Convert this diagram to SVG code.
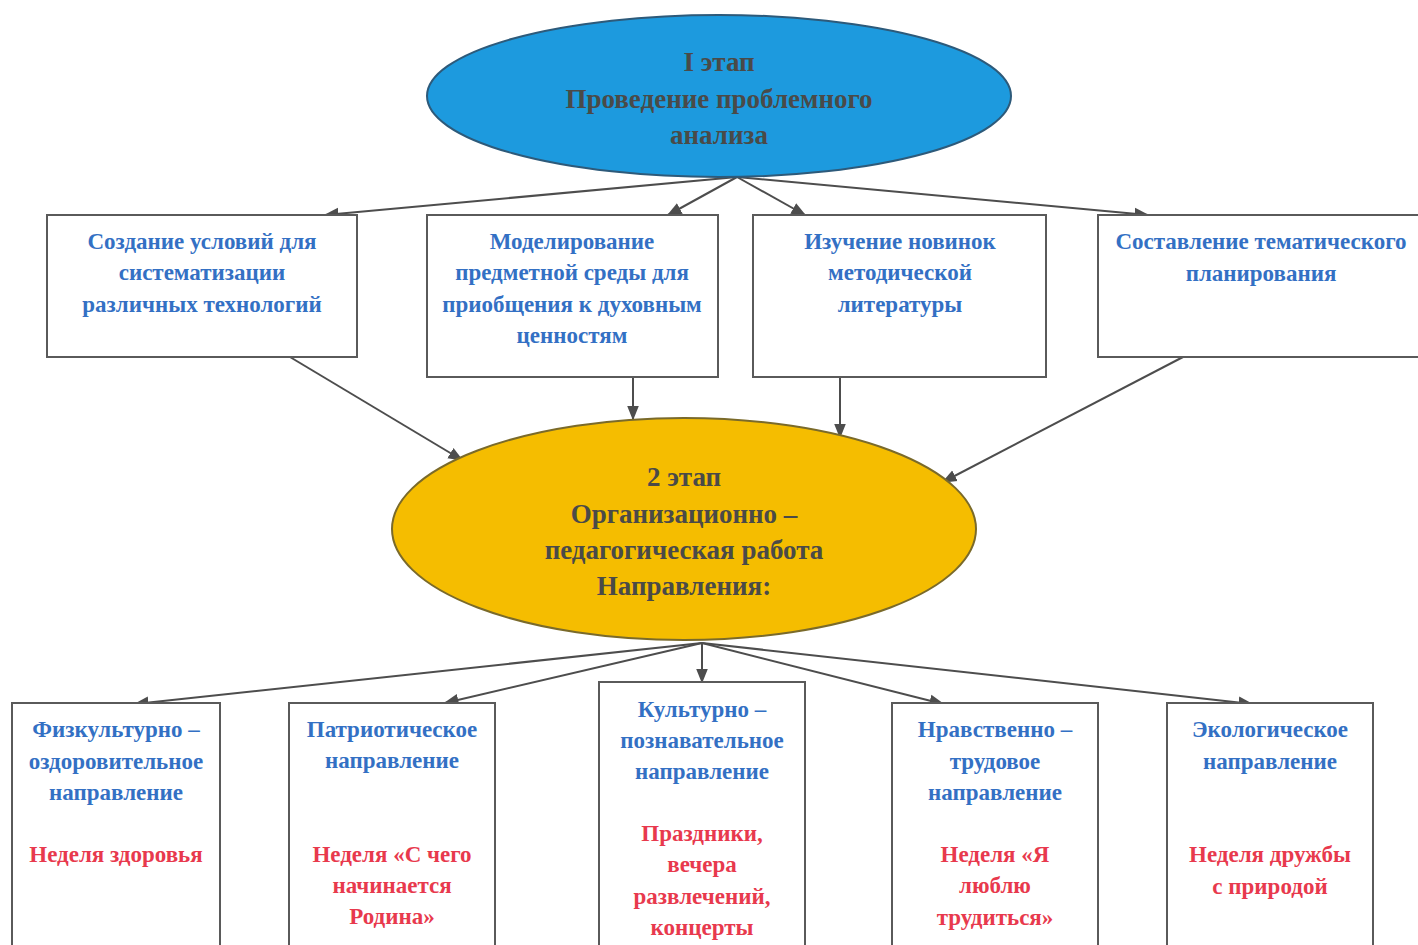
<svg xmlns="http://www.w3.org/2000/svg" width="1418" height="945" viewBox="0 0 1418 945">
<style>
.bg{fill:#ffffff}
.box{fill:#ffffff;stroke:#5a5a5a;stroke-width:2}
.t{font-family:"Liberation Serif","Times New Roman",serif;font-weight:bold;text-anchor:middle}
.head{font-size:27px;fill:#4a4a48}
.blue{font-size:23px;fill:#3370c4}
.red{font-size:23px;fill:#e8394d}
.con{stroke:#4d4d4d;stroke-width:2;fill:none;marker-end:url(#ah)}
</style>
<defs>
<marker id="ah" viewBox="0 0 10 10" refX="9" refY="5" markerWidth="7.5" markerHeight="7.5" orient="auto" markerUnits="strokeWidth">
<path d="M0,1 L10,5 L0,9 Z" fill="#4d4d4d"/>
</marker>
</defs>
<rect class="bg" x="0" y="0" width="1418" height="945"/>

<g id="connectors">
<line class="con" x1="737" y1="177" x2="325" y2="215"/>
<line class="con" x1="737" y1="177" x2="668" y2="215"/>
<line class="con" x1="737" y1="177" x2="805" y2="215"/>
<line class="con" x1="737" y1="177" x2="1148" y2="215"/>
<line class="con" x1="290" y1="357" x2="462" y2="460"/>
<line class="con" x1="633" y1="377" x2="633" y2="419"/>
<line class="con" x1="840" y1="377" x2="840" y2="437"/>
<line class="con" x1="1183" y1="357" x2="943" y2="482"/>
<line class="con" x1="702" y1="643" x2="135" y2="704"/>
<line class="con" x1="702" y1="643" x2="445" y2="703"/>
<line class="con" x1="702" y1="643" x2="702" y2="682"/>
<line class="con" x1="702" y1="643" x2="943" y2="704"/>
<line class="con" x1="702" y1="643" x2="1252" y2="704"/>
</g>

<g id="stage1">
<ellipse cx="719" cy="96" rx="292" ry="81" fill="#1d9ade" stroke="#2d5a7a" stroke-width="2"/>
<text class="t head" x="719" y="71">I этап</text>
<text class="t head" x="719" y="108">Проведение проблемного</text>
<text class="t head" x="719" y="144">анализа</text>
</g>

<g id="box-conditions">
<rect class="box" x="47" y="215" width="310" height="142"/>
<text class="t blue" x="202" y="249">Создание условий для</text>
<text class="t blue" x="202" y="280">систематизации</text>
<text class="t blue" x="202" y="312">различных технологий</text>
</g>

<g id="box-modeling">
<rect class="box" x="427" y="215" width="291" height="162"/>
<text class="t blue" x="572" y="249">Моделирование</text>
<text class="t blue" x="572" y="280">предметной среды для</text>
<text class="t blue" x="572" y="312">приобщения к духовным</text>
<text class="t blue" x="572" y="343">ценностям</text>
</g>

<g id="box-study">
<rect class="box" x="753" y="215" width="293" height="162"/>
<text class="t blue" x="900" y="249">Изучение новинок</text>
<text class="t blue" x="900" y="280">методической</text>
<text class="t blue" x="900" y="312">литературы</text>
</g>

<g id="box-planning">
<rect class="box" x="1098" y="215" width="330" height="142"/>
<text class="t blue" x="1261" y="249">Составление тематического</text>
<text class="t blue" x="1261" y="281">планирования</text>
</g>

<g id="stage2">
<ellipse cx="684" cy="529" rx="292" ry="111" fill="#f5bd00" stroke="#7a6a2a" stroke-width="2"/>
<text class="t head" x="684" y="486">2 этап</text>
<text class="t head" x="684" y="523">Организационно –</text>
<text class="t head" x="684" y="559">педагогическая работа</text>
<text class="t head" x="684" y="595">Направления:</text>
</g>

<g id="dir-physical">
<rect class="box" x="12" y="703" width="208" height="250"/>
<text class="t blue" x="116" y="737">Физкультурно –</text>
<text class="t blue" x="116" y="769">оздоровительное</text>
<text class="t blue" x="116" y="800">направление</text>
<text class="t red" x="116" y="862">Неделя здоровья</text>
</g>

<g id="dir-patriotic">
<rect class="box" x="289" y="703" width="206" height="250"/>
<text class="t blue" x="392" y="737">Патриотическое</text>
<text class="t blue" x="392" y="768">направление</text>
<text class="t red" x="392" y="862">Неделя «С чего</text>
<text class="t red" x="392" y="893">начинается</text>
<text class="t red" x="392" y="924">Родина»</text>
</g>

<g id="dir-cultural">
<rect class="box" x="599" y="682" width="206" height="271"/>
<text class="t blue" x="702" y="717">Культурно –</text>
<text class="t blue" x="702" y="748">познавательное</text>
<text class="t blue" x="702" y="779">направление</text>
<text class="t red" x="702" y="841">Праздники,</text>
<text class="t red" x="702" y="872">вечера</text>
<text class="t red" x="702" y="904">развлечений,</text>
<text class="t red" x="702" y="935">концерты</text>
</g>

<g id="dir-moral">
<rect class="box" x="892" y="703" width="206" height="250"/>
<text class="t blue" x="995" y="737">Нравственно –</text>
<text class="t blue" x="995" y="769">трудовое</text>
<text class="t blue" x="995" y="800">направление</text>
<text class="t red" x="995" y="862">Неделя «Я</text>
<text class="t red" x="995" y="893">люблю</text>
<text class="t red" x="995" y="925">трудиться»</text>
</g>

<g id="dir-ecological">
<rect class="box" x="1167" y="703" width="206" height="250"/>
<text class="t blue" x="1270" y="737">Экологическое</text>
<text class="t blue" x="1270" y="769">направление</text>
<text class="t red" x="1270" y="862">Неделя дружбы</text>
<text class="t red" x="1270" y="894">с природой</text>
</g>
</svg>
